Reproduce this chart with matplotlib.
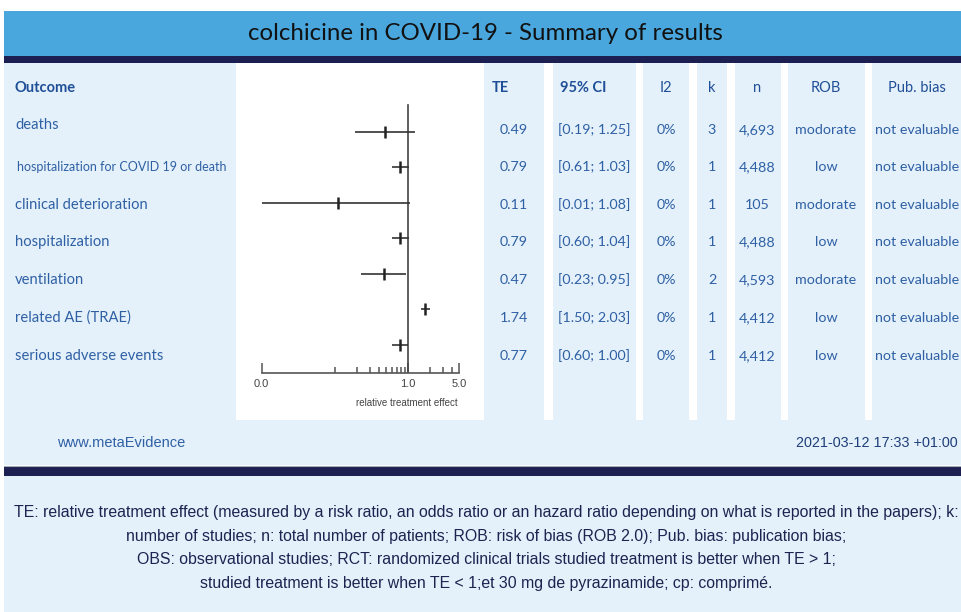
import matplotlib
matplotlib.use("Agg")
import matplotlib.pyplot as plt
import matplotlib.patches as mp
from matplotlib.ticker import NullFormatter

# ---- data ----
outcomes = ["deaths", "hospitalization for COVID 19 or death", "clinical deterioration",
            "hospitalization", "ventilation", "related AE (TRAE)", "serious adverse events"]
te = [0.49, 0.79, 0.11, 0.79, 0.47, 1.74, 0.77]
ci_lo = [0.19, 0.61, 0.01, 0.60, 0.23, 1.50, 0.60]
ci_hi = [1.25, 1.03, 1.08, 1.04, 0.95, 2.03, 1.00]
i2 = ["0%", "0%", "0%", "0%", "0%", "0%", "0%"]
k = [3, 1, 1, 1, 2, 1, 1]
n = [4693, 4488, 105, 4488, 4593, 4412, 4412]
rob = ["modorate", "low", "modorate", "low", "modorate", "low", "low"]
pub = ["not evaluable"] * 7

TITLE = "colchicine in COVID-19 - Summary of results"
FOOTER = ["TE: relative treatment effect (measured by a risk ratio, an odds ratio or an hazard ratio depending on what is reported in the papers); k:",
          "number of studies; n: total number of patients; ROB: risk of bias (ROB 2.0); Pub. bias: publication bias;",
          "OBS: observational studies; RCT: randomized clinical trials studied treatment is better when TE > 1;",
          "studied treatment is better when TE < 1;et 30 mg de pyrazinamide; cp: comprimé."]

# ---- style ----
BAND = "#49A7DD"; NAVY = "#1C1F52"; LIGHT = "#E4F1FB"
TXT = "#2F60A4"; HEAD = "#1F4F96"; DARK = "#1E2350"
SANS = ["Lato", "DejaVu Sans"]
NARROW = ["Liberation Sans", "DejaVu Sans"]

W, H = 962, 612
fig = plt.figure(figsize=(W / 100, H / 100), dpi=100)
fig.patch.set_facecolor("white")
ax = fig.add_axes([0, 0, 1, 1])
ax.set_xlim(0, W); ax.set_ylim(H, 0); ax.axis("off")


def rect(x0, y0, x1, y1, c):
    ax.add_patch(mp.Rectangle((x0, y0), x1 - x0, y1 - y0, facecolor=c,
                              edgecolor="none", zorder=1))


# title band
rect(4, 11, W, 56, BAND)
rect(4, 56, W, 63, NAVY)
ax.text(485, 33, TITLE, ha="center", va="center", fontsize=17.3,
        family=SANS, color="#111")

# table columns
cols = [(4, 236), (484, 544), (553, 636), (643, 689), (697, 727),
        (735, 781), (788, 865), (872, W)]
for x0, x1 in cols:
    rect(x0, 63, x1, 420, LIGHT)
rect(236, 63, 484, 420, "white")
rect(4, 420, W, 465, LIGHT)
ax.plot([4, W], [465.5, 465.5], color="#A3AAB8", lw=0.8, zorder=2)
rect(4, 466, W, 476, NAVY)
rect(4, 476, W, H, LIGHT)

# header
hy = 88
for x, t, ha, b in [(15, "Outcome", "left", True), (492, "TE", "left", True),
                    (560, "95% CI", "left", True), (666, "I2", "center", False),
                    (712, "k", "center", False), (757, "n", "center", False),
                    (826, "ROB", "center", False), (917, "Pub. bias", "center", False)]:
    ax.text(x, hy, t, ha=ha, va="center", fontsize=10.5, family=SANS,
            color=HEAD, fontweight=("bold" if b else "normal"))

# rows
label_y = [125, 167, 205, 242, 280, 318, 356]
value_y = [130, 167, 205, 242, 280, 318, 356]
fs = 10.3
for i, name in enumerate(outcomes):
    small = len(name) > 30
    ax.text(17 if small else 15, label_y[i], name, ha="left", va="center",
            fontsize=9.0 if small else 10.6, family=SANS, color=TXT)
    vy = value_y[i]
    ax.text(528, vy, f"{te[i]:.2f}", ha="right", va="center", fontsize=fs, family=SANS, color=TXT)
    ax.text(594, vy, f"[{ci_lo[i]:.2f}; {ci_hi[i]:.2f}]", ha="center", va="center",
            fontsize=fs, family=SANS, color=TXT)
    ax.text(666, vy, i2[i], ha="center", va="center", fontsize=fs, family=SANS, color=TXT)
    ax.text(712, vy, str(k[i]), ha="center", va="center", fontsize=fs, family=SANS, color=TXT)
    ax.text(757, vy, f"{n[i]:,}", ha="center", va="center", fontsize=fs, family=SANS, color=TXT)
    ax.text(826, vy, rob[i], ha="center", va="center", fontsize=fs, family=SANS, color=TXT)
    ax.text(917, vy, pub[i], ha="center", va="center", fontsize=fs, family=SANS, color=TXT)

# bottom row
ax.text(121, 443, "www.metaEvidence", ha="center", va="center", fontsize=10.5,
        family=NARROW, color=TXT)
ax.text(958, 443, "2021-03-12 17:33 +01:00", ha="right", va="center", fontsize=10.4,
        family=NARROW, color="#1F3F7A")

# footer notes
for j, line in enumerate(FOOTER):
    ax.text(486, 513 + 23.5 * j, line, ha="center", va="center", fontsize=11.45,
            family=NARROW, color=DARK)

# ---- forest plot ----
left, right, top, base = 261.5, 459, 100, 373
fa = fig.add_axes([left / W, 1 - base / H, (right - left) / W, (base - top) / H])
fa.patch.set_visible(False)
fa.set_xscale("log")
fa.set_xlim(0.01, 5)
fa.set_ylim(6.79, -0.9)
fa.axvline(1, ymin=0, ymax=(base - 105) / (base - top), color="#444", lw=1.2)
rows = list(range(len(te)))
fa.hlines(rows, ci_lo, ci_hi, color="#333", lw=1.2)
fa.plot(te, rows, ls="none", marker="|", ms=9, mew=1.8, color="#222")
for s in ("top", "right", "left"):
    fa.spines[s].set_visible(False)
fa.spines["bottom"].set_color("#555")
fa.spines["bottom"].set_linewidth(1.2)
fa.set_yticks([])
fa.set_xticks([0.01, 1, 5])
fa.set_xticklabels(["0.0", "1.0", "5.0"])
fa.set_xticks([0.1, 0.2, 0.3, 0.4, 0.5, 0.6, 0.7, 0.8, 0.9, 2, 3, 4], minor=True)
fa.xaxis.set_minor_formatter(NullFormatter())
fa.tick_params(axis="x", which="major", direction="in", length=7, width=1.1,
               color="#555", pad=4, labelsize=8, labelcolor="#444")
fa.tick_params(axis="x", which="minor", direction="in", length=4.5, width=1.1, color="#555")
for lab in fa.get_xticklabels():
    lab.set_family(NARROW)
ax.text(407, 403, "relative treatment effect", ha="center", va="center",
        fontsize=7, family=NARROW, color="#444")

fig.savefig("out.png", dpi=100)
